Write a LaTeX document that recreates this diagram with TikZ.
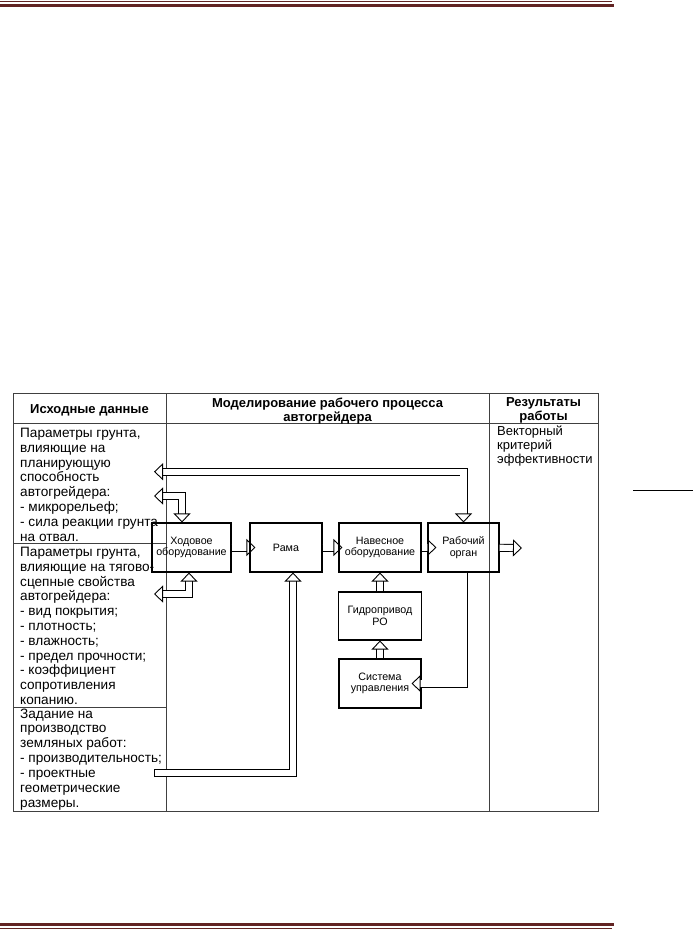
\documentclass[tikz,border=0pt]{standalone}
\usepackage{fontspec}
\setmainfont{Liberation Sans}
\usetikzlibrary{arrows.meta}
\definecolor{rule}{HTML}{622423}
\definecolor{grid}{HTML}{404040}
\tikzset{
  treug/.tip={Triangle[open,length=9pt,width=17pt,line width=0.9pt]},
  blok/.style={draw,line width=1.1pt,minimum height=49pt,inner sep=0pt,align=center,font=\fontsize{10.7}{11.7}\selectfont},
  strelka/.style={draw,line width=0.9pt,double,double distance=6.2pt,-treug},
  dvastrelki/.style={strelka,treug-treug},
  yach/.style={anchor=north west,inner sep=0pt,align=left,font=\fontsize{13.6}{14.8}\selectfont},
  shapka/.style={inner sep=0pt,align=center,font=\fontsize{13}{14}\selectfont\bfseries},
}
\begin{document}
\begin{tikzpicture}[x=1pt,y=-1pt]
\useasboundingbox (0,0) rectangle (693,929);
% page rules
\draw[rule,line width=1pt](0,1.5)--(612,1.5);
\draw[rule,line width=3pt](0,5)--(614,5);
\draw[rule,line width=3pt](0,924.5)--(614,924.5);
\draw[rule,line width=1pt](0,928.3)--(612,928.3);
\draw[line width=0.8pt](633,490)--(693,490);

% table
\draw[grid,line width=0.9pt](13,393) rectangle (598,811);
\draw[grid,line width=0.9pt](166,393)--(166,811);
\draw[grid,line width=0.9pt](489,393)--(489,811);
\draw[grid,line width=0.9pt](13,423)--(598,423);
\draw[grid,line width=0.9pt](13,543)--(166,543);
\draw[grid,line width=0.9pt](13,707)--(166,707);

\node[shapka] at (89.5,410){Исходные данные};
\node[shapka,anchor=north] at (327.5,397.5){Моделирование рабочего процесса\\автогрейдера};
\node[shapka,anchor=north] at (543.5,397.5){Результаты\\работы};

\node[yach] (par1) at (20,428){Параметры грунта,\\влияющие на\\планирующую\\способность\\автогрейдера:\\- микрорельеф;\\- сила реакции грунта\\на отвал.};
\node[yach] (par2) at (20,547){Параметры грунта,\\влияющие на тягово-\\сцепные свойства\\автогрейдера:\\- вид покрытия;\\- плотность;\\- влажность;\\- предел прочности;\\- коэффициент\\сопротивления\\копанию.};
\node[yach] (zadan) at (20,708.5){Задание на\\производство\\земляных работ:\\- производительность;\\- проектные\\геометрические\\размеры.};
\node[yach,font=\fontsize{13}{14.2}\selectfont] (rez) at (497,425.5){Векторный\\критерий\\эффективности};

% blocks
\node[blok,minimum width=79pt] (hod) at (191.5,547.5){Ходовое\\оборудование};
\node[blok,minimum width=72pt] (rama) at (286,547.5){Рама};
\node[blok,minimum width=82pt] (naves) at (380,547.5){Навесное\\оборудование};
\node[blok,minimum width=71pt] (rabor) at (463.5,547.5){Рабочий\\орган};
\node[blok,minimum width=83pt,minimum height=48pt] (gidro) at (380,616){Гидропривод\\РО};
\node[blok,minimum width=82pt] (sist) at (380,683.5){Система\\управления};

\coordinate (inA) at (154,471.7);
\coordinate (inB) at (154,496);
\coordinate (inC) at (154,594);
\coordinate (zad) at (154,773);
\coordinate (out) at (522,548);

% connectors
\draw[strelka,shorten >=-6pt](hod)--(rama);
\draw[strelka,shorten >=-4pt](rama)--(naves);
\draw[strelka,shorten >=-9pt](naves)--(rabor);
\draw[strelka](rabor)--(out);
\draw[strelka](gidro)--(naves);
\draw[strelka](sist)--(gidro);
\draw[strelka,shorten >=-10pt](rabor.south)|-(sist.east);
\draw[dvastrelki](rabor.north)|-(inA);
\draw[dvastrelki]([xshift=-9.5pt]hod.north)|-(inB);
\draw[dvastrelki]([xshift=-2.5pt]hod.south)|-(inC);
\draw[strelka,{Bar[width=8.2pt,line width=0.9pt]}-treug](zad)-|([xshift=7pt]rama.south);
\end{tikzpicture}
\end{document}
